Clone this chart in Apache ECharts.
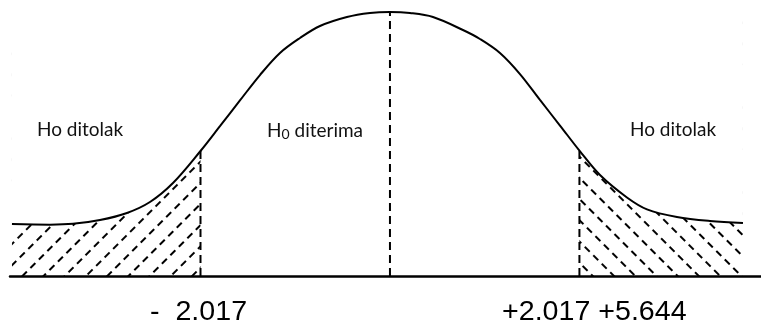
<!DOCTYPE html>
<html>
<head>
<meta charset="utf-8">
<script src="https://cdn.jsdelivr.net/npm/echarts@6/dist/echarts.min.js"></script>
<style>
html,body{margin:0;padding:0;background:#fff;}
#chart{width:761px;height:323px;}
</style>
</head>
<body>
<div id="chart"></div>
<script>
// curve: z value and density height
const curveZ = [-4.024,-3.620,-3.375,-3.087,-2.800,-2.555,-2.310,-2.017,-1.810,-1.597,-1.384,-1.171,-0.958,-0.745,-0.458,-0.213,0,
                0.213,0.458,0.777,0.958,1.171,1.384,1.597,1.810,2.017,2.236,2.523,2.736,3.055,3.407,3.758];
const curveH = [0.0788,0.0778,0.0790,0.0848,0.0955,0.1121,0.1409,0.1894,0.2270,0.2660,0.3045,0.3379,0.3606,0.3788,0.3924,0.3985,0.4000,
                0.3985,0.3924,0.3727,0.3591,0.3379,0.3060,0.2667,0.2280,0.1900,0.1530,0.1190,0.1010,0.0894,0.0833,0.0803];
const criticalZ = [-2.017, 0, 2.017];
const criticalTop = [0.195, 0.400, 0.195];
const regionLabels = ['Ho ditolak', 'H0 diterima', 'Ho ditolak'];
const bottomLabels = ['-  2.017', '+2.017 +5.644'];
const yMax = 0.4;

const curve = curveZ.map((z, i) => [z, curveH[i]]);
// rejection regions: from the curve's ends to the critical values (area below is hatched, above the curve is masked)
const leftRegion = [[curveZ[0], yMax], [criticalZ[0], yMax]];
const rightRegion = [[criticalZ[2], yMax], [curveZ[curveZ.length - 1], yMax]];

function hatch(rot) {
  return {
    symbol: 'rect', symbolSize: 1, symbolKeepAspect: false,
    color: '#000', backgroundColor: 'rgba(255,255,255,0)',
    dashArrayX: [[7, 5]], dashArrayY: [1.8, 13],
    rotation: rot
  };
}

const chart = echarts.init(document.getElementById('chart'), null, {renderer: 'canvas'});
const series = [
  {
    type: 'line', data: leftRegion, symbol: 'none', silent: true,
    lineStyle: {width: 0, opacity: 0}, itemStyle: {color: '#000', decal: hatch(-Math.PI / 4)},
    areaStyle: {color: 'rgba(255,255,255,0)', opacity: 1}, z: 1
  },
  {
    type: 'line', data: rightRegion, symbol: 'none', silent: true,
    lineStyle: {width: 0, opacity: 0}, itemStyle: {color: '#000', decal: hatch(Math.PI / 4)},
    areaStyle: {color: 'rgba(255,255,255,0)', opacity: 1}, z: 1
  },
  {
    // white mask above the curve
    type: 'line', data: curve, smooth: 0.35, symbol: 'none', silent: true,
    lineStyle: {width: 0, opacity: 0}, itemStyle: {color: '#fff'},
    areaStyle: {color: '#fff', opacity: 1, origin: 'end'}, z: 2
  },
  {
    type: 'line', data: curve, smooth: 0.35, symbol: 'none', silent: true,
    lineStyle: {color: '#000', width: 2}, z: 3
  }
];
criticalZ.forEach((z, i) => {
  series.push({
    type: 'line', data: [[z, 0], [z, criticalTop[i]]], symbol: 'none', silent: true,
    lineStyle: {color: '#000', width: 2, type: [8, 5]}, z: 4
  });
});

const labelFont = 'Lato, "Open Sans", sans-serif';
const numFont = '27px "Liberation Sans", Arial, sans-serif';
chart.setOption({
  animation: false,
  backgroundColor: '#fff',
  grid: {left: 10, right: 0, top: 12, bottom: 47},
  xAxis: {
    type: 'value', min: -4.045, max: 3.95,
    axisLine: {show: true, onZero: false, lineStyle: {color: '#000', width: 2.5}},
    axisTick: {show: false}, axisLabel: {show: false}, splitLine: {show: false}
  },
  yAxis: {
    type: 'value', min: 0, max: yMax, show: false, splitLine: {show: false}
  },
  series: series,
  graphic: [
    {type: 'text', left: 37, top: 120, z: 10, style: {text: regionLabels[0], font: '19px ' + labelFont, fill: '#111'}},
    {type: 'text', left: 267, top: 120, z: 10, style: {
      text: '{h|H}{s|0}{h| diterima}',
      rich: {
        h: {fontSize: 19, fontFamily: 'Lato', fill: '#111', lineHeight: 24},
        s: {fontSize: 14, fontFamily: 'Lato', fill: '#111', lineHeight: 24, padding: [7, 0, 0, 0]}
      }
    }},
    {type: 'text', left: 630, top: 120, z: 10, style: {text: regionLabels[2], font: '19px ' + labelFont, fill: '#111'}},
    {type: 'text', x: 150, y: 299, scaleX: 1.06, z: 10, style: {text: bottomLabels[0], font: numFont, fill: '#000', textVerticalAlign: 'top'}},
    {type: 'text', x: 502, y: 299, scaleX: 1.06, z: 10, style: {text: bottomLabels[1], font: numFont, fill: '#000', textVerticalAlign: 'top'}}
  ]
});
</script>
</body>
</html>
